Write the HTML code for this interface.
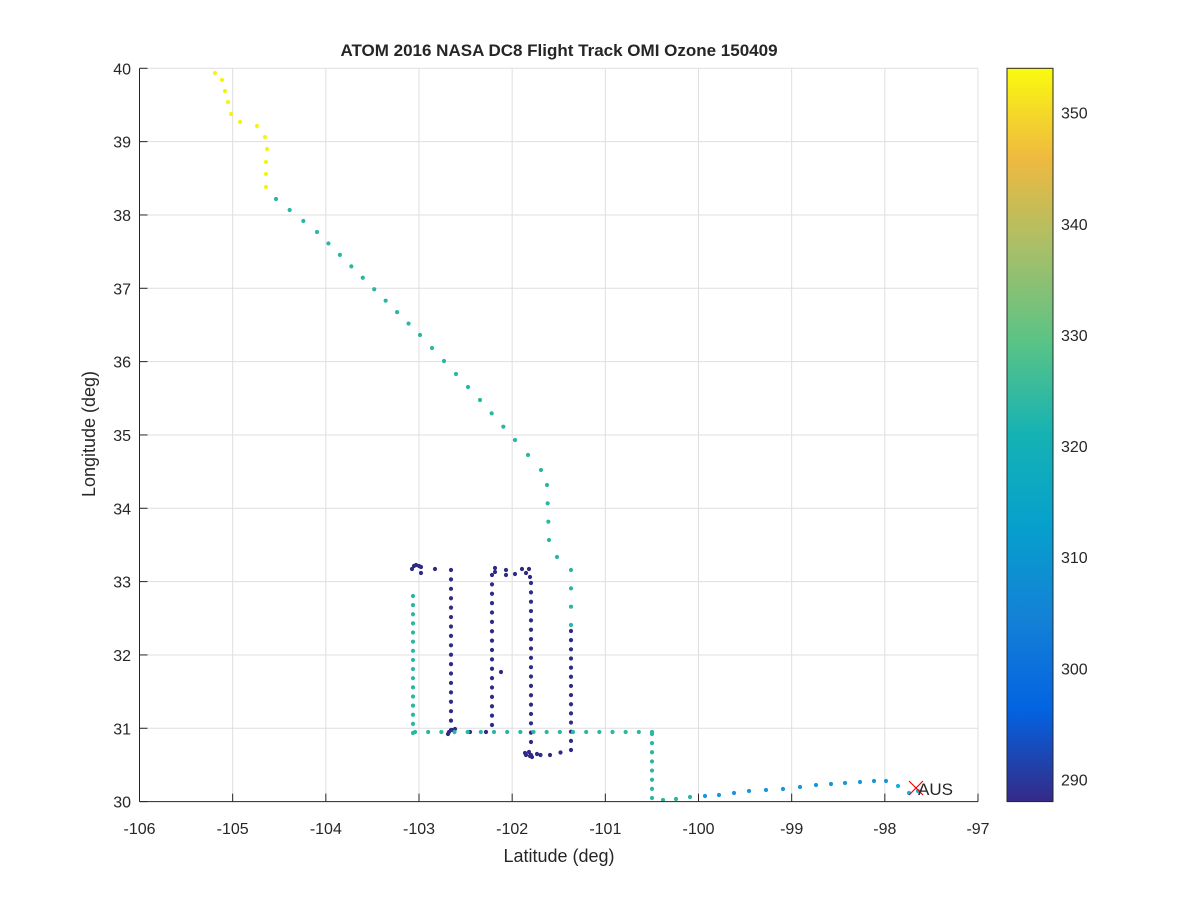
<!DOCTYPE html>
<html><head><meta charset="utf-8"><style>
body{margin:0;background:#fff}
svg text{font-family:"Liberation Sans",Arial,sans-serif;fill:#262626}
</style></head><body>
<svg id="s" width="1200" height="900" xmlns="http://www.w3.org/2000/svg">
<defs><linearGradient id="par" x1="0" y1="1" x2="0" y2="0">
<stop offset="0" stop-color="#352a87"/><stop offset="0.125" stop-color="#0363e1"/>
<stop offset="0.25" stop-color="#1481d6"/><stop offset="0.375" stop-color="#06a0cd"/>
<stop offset="0.5" stop-color="#15b2b4"/><stop offset="0.625" stop-color="#59c386"/>
<stop offset="0.75" stop-color="#a5bf69"/><stop offset="0.875" stop-color="#eeb940"/>
<stop offset="0.94" stop-color="#f5d928"/><stop offset="1" stop-color="#f9fb0e"/></linearGradient></defs>
<rect x="139.5" y="68.3" width="838.5" height="733.3" fill="#fff"/>
<g id="grid" stroke="#dfdfdf" stroke-width="1"></g>
<g id="dots"></g>
<g id="ticks" stroke="#262626" stroke-width="1"></g>
<g id="lab" font-size="16" ></g>
<text x="559" y="56" font-size="17" font-weight="bold" text-anchor="middle" fill="#000">ATOM 2016 NASA DC8 Flight Track OMI Ozone 150409</text>
<text x="559" y="862" font-size="18" text-anchor="middle">Latitude (deg)</text>
<text transform="translate(95,434) rotate(-90)" font-size="18" text-anchor="middle">Longitude (deg)</text>
<rect x="1007" y="68.3" width="46" height="733.3" fill="url(#par)" stroke="#262626"/>
<g stroke="#ff0000" stroke-width="1.2"><line x1="909" y1="781" x2="923" y2="795"/><line x1="909" y1="795" x2="923" y2="781"/></g>
<text x="918" y="795" font-size="17" fill="#000">AUS</text>
</svg>
<script>
const NS="http://www.w3.org/2000/svg",g=id=>document.getElementById(id);
function el(p,t,a,txt){const e=document.createElementNS(NS,t);for(const k in a)e.setAttribute(k,a[k]);if(txt!=null)e.textContent=txt;g(p).appendChild(e);}
const L=139.5,R=978,T=68.3,B=801.6,dx=(R-L)/9,dy=(B-T)/10;
for(let i=0;i<=9;i++){const x=L+i*dx;if(i>0)el('grid','line',{x1:x,y1:T,x2:x,y2:B});
el('ticks','line',{x1:x,y1:B,x2:x,y2:B-8});
el('lab','text',{x:x,y:834,'text-anchor':'middle'},String(-106+i));}
for(let j=0;j<=10;j++){const y=B-j*dy;if(j>0)el('grid','line',{x1:L,y1:y,x2:R,y2:y});
el('ticks','line',{x1:L,y1:y,x2:L+8,y2:y});
el('lab','text',{x:131,y:y+6,'text-anchor':'end'},String(30+j));}
el('ticks','line',{x1:L,y1:T,x2:L,y2:B});el('ticks','line',{x1:L,y1:B,x2:R,y2:B});
for(let v=290;v<=350;v+=10){const y=B-(v-288)/66*(B-T);
el('ticks','line',{x1:1053,y1:y,x2:1047,y2:y});
el('lab','text',{x:1061,y:y+6},String(v));}
function dot(x,y,c){el('dots','circle',{cx:x,cy:y,r:2.1,fill:c});}
function path(pts,c,sp){for(let i=0;i<pts.length-1;i++){const[a,b]=pts[i],[c2,d]=pts[i+1];const len=Math.hypot(c2-a,d-b),n=Math.max(1,Math.round(len/sp));for(let k=0;k<n;k++)dot(a+(c2-a)*k/n,b+(d-b)*k/n,c);}dot(pts[pts.length-1][0],pts[pts.length-1][1],c);}
const Y="#f5f50c",TL="#2ab7a2",D="#2f2a86",BL="#1a95dc",CY="#18aedb";
[[215,73],[222,80],[225,91],[228,102],[231,114],[240,122],[257,126],[265,137],[267,149],[266,162],[266,174],[266,187]].forEach(p=>dot(p[0],p[1],Y));
path([[276,199],[317,232],[420,335],[480,400],[515,440],[541,470],[547,485],[549,540],[557,557],[571,570],[571,625]],TL,17);
path([[571,631],[571,750],[550,755],[531,755]],D,9.5);
[[526,755],[525,753],[530,756],[532,757],[537,754],[529,752]].forEach(p=>dot(p[0],p[1],D));
path([[531,742],[531,583]],D,9.5);
[[529,569],[522,569],[526,573],[530,577]].forEach(p=>dot(p[0],p[1],D));
path([[492,725],[492,575]],D,9.5);
[[495,568],[495,572],[506,570],[506,575],[515,574],[501,672]].forEach(p=>dot(p[0],p[1],D));
path([[451,730],[451,570]],D,9.5);
[[449,732],[448,734],[452,730],[455,729],[470,732],[486,732],[412,569],[414,566],[416,565],[419,566],[421,567],[435,569],[421,573]].forEach(p=>dot(p[0],p[1],D));
path([[413,596],[413,733]],TL,9.3);
path([[415,732],[652,732]],TL,13);
path([[652,734],[652,798],[663,800],[676,799],[690,797]],TL,9.5);
[[705,796],[719,795],[734,793],[749,791],[766,790],[783,789],[800,787],[816,785],[831,784],[845,783],[860,782],[874,781],[886,781]].forEach(p=>dot(p[0],p[1],BL));
[[898,786],[909,793],[918,791]].forEach(p=>dot(p[0],p[1],CY));
</script>
</body></html>
